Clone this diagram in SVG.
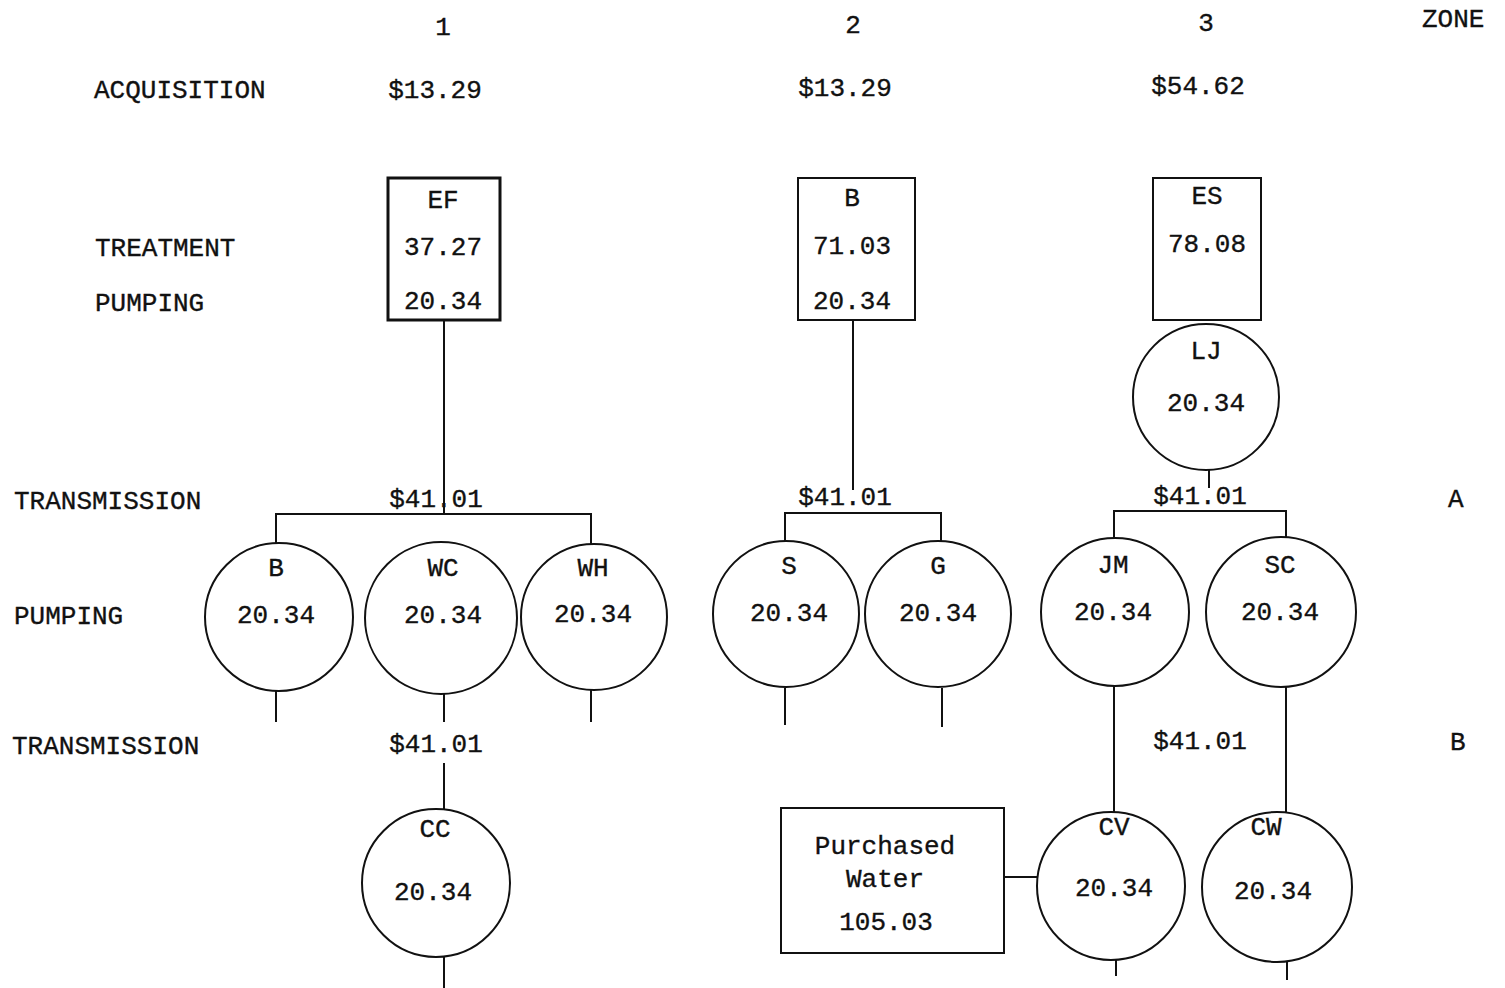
<svg xmlns="http://www.w3.org/2000/svg" width="1505" height="988" viewBox="0 0 1505 988">
  <style>
    text { font-family: "Liberation Mono", "DejaVu Sans Mono", monospace; font-size: 26px; fill: #111; stroke: #111; stroke-width: 0.35; dominant-baseline: central; }
    .c { text-anchor: middle; }
    .node { fill: #fff; stroke: #111; stroke-width: 2; }
    .thick { stroke-width: 3; }
    .wire { fill: none; stroke: #111; stroke-width: 2; }
  </style>
  <rect width="1505" height="988" fill="#fff"/>

  <!-- row / column headings -->
  <g id="labels">
    <text class="c" x="443" y="28">1</text>
    <text class="c" x="853" y="26">2</text>
    <text class="c" x="1206" y="24">3</text>
    <text x="1422" y="20">ZONE</text>
    <text x="94" y="91">ACQUISITION</text>
    <text class="c" x="435" y="91">$13.29</text>
    <text class="c" x="845" y="89">$13.29</text>
    <text class="c" x="1198" y="87">$54.62</text>
    <text x="95" y="249">TREATMENT</text>
    <text x="95" y="304">PUMPING</text>
    <text x="14" y="502">TRANSMISSION</text>
    <text x="14" y="617">PUMPING</text>
    <text x="12" y="747">TRANSMISSION</text>
    <text class="c" x="436" y="500">$41.01</text>
    <text class="c" x="845" y="498">$41.01</text>
    <text class="c" x="1200" y="497">$41.01</text>
    <text class="c" x="436" y="745">$41.01</text>
    <text class="c" x="1200" y="742">$41.01</text>
    <text x="1448" y="500">A</text>
    <text x="1450" y="743">B</text>
  </g>

  <!-- connectors -->
  <g id="connectors" class="wire">
    <path d="M444 320 V514"/>
    <path d="M276 545 V514 H591 V545"/>
    <path d="M853 320 V490"/>
    <path d="M785 541 V513 H941 V541"/>
    <path d="M1209 470 V488"/>
    <path d="M1114 538 V511 H1286 V538"/>
    <path d="M276 690 V722"/>
    <path d="M444 692 V722"/>
    <path d="M591 690 V722"/>
    <path d="M785 688 V725"/>
    <path d="M942 688 V727"/>
    <path d="M444 763 V809"/>
    <path d="M444 957 V988"/>
    <path d="M1114 686 V812"/>
    <path d="M1286 686 V812"/>
    <path d="M1004 877 H1037"/>
    <path d="M1116 960 V976"/>
    <path d="M1287 960 V980"/>
  </g>

  <!-- treatment plants -->
  <g id="ef">
    <rect class="node thick" x="388" y="178" width="112" height="142"/>
    <text class="c" x="443" y="201">EF</text>
    <text class="c" x="443" y="248">37.27</text>
    <text class="c" x="443" y="302">20.34</text>
  </g>
  <g id="b-plant">
    <rect class="node" x="798" y="178" width="117" height="142"/>
    <text class="c" x="852" y="199">B</text>
    <text class="c" x="852" y="247">71.03</text>
    <text class="c" x="852" y="302">20.34</text>
  </g>
  <g id="es">
    <rect class="node" x="1153" y="178" width="108" height="142"/>
    <text class="c" x="1207" y="197">ES</text>
    <text class="c" x="1207" y="245">78.08</text>
  </g>

  <!-- pump stations -->
  <g id="lj">
    <circle class="node" cx="1206" cy="397" r="73"/>
    <text class="c" x="1206" y="352">LJ</text>
    <text class="c" x="1206" y="404">20.34</text>
  </g>
  <g id="b">
    <circle class="node" cx="279" cy="617" r="74"/>
    <text class="c" x="276" y="569">B</text>
    <text class="c" x="276" y="616">20.34</text>
  </g>
  <g id="wc">
    <circle class="node" cx="441" cy="618" r="76"/>
    <text class="c" x="443" y="569">WC</text>
    <text class="c" x="443" y="616">20.34</text>
  </g>
  <g id="wh">
    <circle class="node" cx="594" cy="617" r="73"/>
    <text class="c" x="593" y="569">WH</text>
    <text class="c" x="593" y="615">20.34</text>
  </g>
  <g id="s">
    <circle class="node" cx="786" cy="614" r="73"/>
    <text class="c" x="789" y="567">S</text>
    <text class="c" x="789" y="614">20.34</text>
  </g>
  <g id="g">
    <circle class="node" cx="938" cy="614" r="73"/>
    <text class="c" x="938" y="567">G</text>
    <text class="c" x="938" y="614">20.34</text>
  </g>
  <g id="jm">
    <circle class="node" cx="1115" cy="612" r="74"/>
    <text class="c" x="1113" y="566">JM</text>
    <text class="c" x="1113" y="613">20.34</text>
  </g>
  <g id="sc">
    <circle class="node" cx="1281" cy="612" r="75"/>
    <text class="c" x="1280" y="566">SC</text>
    <text class="c" x="1280" y="613">20.34</text>
  </g>
  <g id="cc">
    <circle class="node" cx="436" cy="883" r="74"/>
    <text class="c" x="435" y="830">CC</text>
    <text class="c" x="433" y="893">20.34</text>
  </g>
  <g id="purchased-water">
    <rect class="node" x="781" y="808" width="223" height="145"/>
    <text class="c" x="885" y="847">Purchased</text>
    <text class="c" x="885" y="880">Water</text>
    <text class="c" x="886" y="923">105.03</text>
  </g>
  <g id="cv">
    <circle class="node" cx="1111" cy="886" r="74"/>
    <text class="c" x="1114" y="828">CV</text>
    <text class="c" x="1114" y="889">20.34</text>
  </g>
  <g id="cw">
    <circle class="node" cx="1277" cy="887" r="75"/>
    <text class="c" x="1266" y="828">CW</text>
    <text class="c" x="1273" y="892">20.34</text>
  </g>
</svg>
